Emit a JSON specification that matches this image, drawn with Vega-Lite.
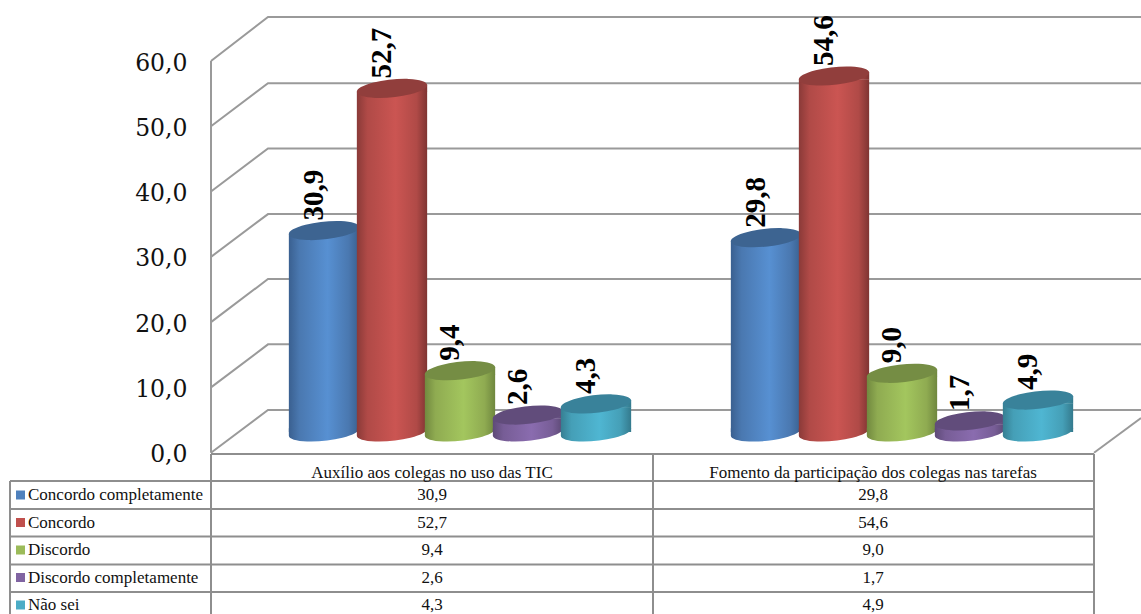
{
"$schema":"https://vega.github.io/schema/vega-lite/v6.json",
"width":1141,"height":614,"padding":0,"autosize":"none","background":"white",
"config":{"view":{"stroke":null},"locale":{"number":{"decimal":",","thousands":".","grouping":[3],"currency":["","€"]}},"text":{"font":"Liberation Serif"}},
"datasets":{
"bars":[
{"cat":"Auxílio aos colegas no uso das TIC","series":"Concordo completamente","value":30.9},
{"cat":"Auxílio aos colegas no uso das TIC","series":"Concordo","value":52.7},
{"cat":"Auxílio aos colegas no uso das TIC","series":"Discordo","value":9.4},
{"cat":"Auxílio aos colegas no uso das TIC","series":"Discordo completamente","value":2.6},
{"cat":"Auxílio aos colegas no uso das TIC","series":"Não sei","value":4.3},
{"cat":"Fomento da participação dos colegas nas tarefas","series":"Concordo completamente","value":29.8},
{"cat":"Fomento da participação dos colegas nas tarefas","series":"Concordo","value":54.6},
{"cat":"Fomento da participação dos colegas nas tarefas","series":"Discordo","value":9.0},
{"cat":"Fomento da participação dos colegas nas tarefas","series":"Discordo completamente","value":1.7},
{"cat":"Fomento da participação dos colegas nas tarefas","series":"Não sei","value":4.9}],
"wall":[
{"g":"w0","node":0,"v":0},{"g":"w0","node":1,"v":6.55},{"g":"w0","node":3,"v":6.55},
{"g":"w10","node":0,"v":10},{"g":"w10","node":1,"v":16.6},{"g":"w10","node":3,"v":16.6},
{"g":"w20","node":0,"v":20},{"g":"w20","node":1,"v":26.6},{"g":"w20","node":3,"v":26.6},
{"g":"w30","node":0,"v":30},{"g":"w30","node":1,"v":36.55},{"g":"w30","node":3,"v":36.55},
{"g":"w40","node":0,"v":40},{"g":"w40","node":1,"v":46.6},{"g":"w40","node":3,"v":46.6},
{"g":"w50","node":0,"v":50},{"g":"w50","node":1,"v":56.6},{"g":"w50","node":3,"v":56.6},
{"g":"w60","node":0,"v":60},{"g":"w60","node":1,"v":66.75},{"g":"w60","node":3,"v":66.75},
{"g":"floor","node":2,"v":0},{"g":"floor","node":3,"v":5.3}],
"wallV":[{"node":0,"v":60,"v2":0}],
"hlines":[
{"row":0,"from":1,"to":3},{"row":1,"from":0,"to":3},{"row":2,"from":0,"to":3},{"row":3,"from":0,"to":3},{"row":4,"from":0,"to":3},{"row":5,"from":0,"to":3}],
"vlines":[
{"col":0,"from":1,"to":6},{"col":1,"from":0,"to":6},{"col":2,"from":0,"to":6},{"col":3,"from":0,"to":6}],
"seriesRows":[
{"series":"Concordo completamente","part":"key"},{"series":"Concordo","part":"key"},{"series":"Discordo","part":"key"},{"series":"Discordo completamente","part":"key"},{"series":"Não sei","part":"key"},
{"series":"Concordo completamente","part":"label"},{"series":"Concordo","part":"label"},{"series":"Discordo","part":"label"},{"series":"Discordo completamente","part":"label"},{"series":"Não sei","part":"label"}],
"cats":[{"cat":"Auxílio aos colegas no uso das TIC"},{"cat":"Fomento da participação dos colegas nas tarefas"}]
},
"resolve":{"scale":{"x":"independent","y":"independent","color":"independent"}},
"layer":[
{"data":{"name":"wall"},
 "mark":{"type":"line","color":"#9A9A9A","strokeWidth":2,"interpolate":"linear"},
 "encoding":{
  "x":{"field":"node","type":"quantitative","axis":null,"scale":{"domain":[0,1,2,3],"range":[211,268,1094,1141]}},
  "y":{"field":"v","type":"quantitative","title":null,"scale":{"domain":[0,60],"range":[452.7,61],"clamp":false,"nice":false},
   "axis":{"orient":"left","values":[0,10,20,30,40,50,60],"format":".1f","offset":-187,"ticks":false,"domain":false,"grid":false,"labelFont":"DejaVu Serif","labelFontSize":23.5,"labelColor":"#111111","labelPadding":0,"labelAlign":"right","labelBaseline":"middle","labelOffset":2}},
  "detail":{"field":"g"}}},
{"data":{"name":"wallV"},
 "mark":{"type":"rule","color":"#9A9A9A","strokeWidth":2},
 "encoding":{
  "x":{"field":"node","type":"quantitative","axis":null,"scale":{"domain":[0,1,2,3],"range":[211,268,1094,1141]}},
  "y":{"field":"v","type":"quantitative","axis":null,"scale":{"domain":[0,60],"range":[452.7,61]}},
  "y2":{"field":"v2"}}},
{"data":{"name":"hlines"},
 "mark":{"type":"rule","color":"#8E8E8E","strokeWidth":2},
 "encoding":{
  "x":{"field":"from","type":"quantitative","axis":null,"scale":{"domain":[0,1,2,3],"range":[10,211,653,1094]}},
  "x2":{"field":"to"},
  "y":{"field":"row","type":"quantitative","axis":null,"scale":{"domain":[0,1,2,3,4,5,6],"range":[454,481,509,536.5,564.5,592,622]}}}},
{"data":{"name":"vlines"},
 "mark":{"type":"rule","color":"#8E8E8E","strokeWidth":2},
 "encoding":{
  "x":{"field":"col","type":"quantitative","axis":null,"scale":{"domain":[0,1,2,3],"range":[10,211,653,1094]}},
  "y":{"field":"from","type":"quantitative","axis":null,"scale":{"domain":[0,1,2,3,4,5,6],"range":[454,481,509,536.5,564.5,592,622]}},
  "y2":{"field":"to"}}},
{"data":{"name":"bars"},
 "encoding":{
  "x":{"field":"cat","type":"nominal","axis":null,"scale":{"type":"point","padding":0,"domain":["Auxílio aos colegas no uso das TIC","Fomento da participação dos colegas nas tarefas"],"range":[460,902]}},
  "xOffset":{"field":"series","type":"nominal","scale":{"type":"point","padding":0,"domain":["Concordo completamente","Concordo","Discordo","Discordo completamente","Não sei"],"range":[-136,136]}},
  "y":{"field":"value","type":"quantitative","axis":null,"stack":null,"scale":{"domain":[0,60],"range":[432,40.8]}}},
 "layer":[
 {"transform":[{"filter":"datum.series==='Concordo completamente'"}],"layer":[
  {"mark":{"type":"point","filled":true,"opacity":1,"size":5000,"shape":"M-0.9945,-0.1045L0.9945,-0.1045A1,0.25,-6,1,1,-0.9945,0.1045Z","fill":{"gradient":"linear","x1":0,"x2":1,"y1":0,"y2":0,"stops":[{"offset":0,"color":"#3A6090"},{"offset":0.15,"color":"#4A78B0"},{"offset":0.55,"color":"#5790D2"},{"offset":0.85,"color":"#4A78B0"},{"offset":1,"color":"#39608F"}]}},"encoding":{"y":{"datum":0,"type":"quantitative"}}},
  {"mark":{"type":"bar","width":70.3,"yOffset":3.4,"y2Offset":-3.4,"fill":{"gradient":"linear","x1":0,"x2":1,"y1":0,"y2":0,"stops":[{"offset":0,"color":"#3A6090"},{"offset":0.15,"color":"#4A78B0"},{"offset":0.55,"color":"#5790D2"},{"offset":0.85,"color":"#4A78B0"},{"offset":1,"color":"#39608F"}]}}},
  {"mark":{"type":"point","filled":true,"opacity":1,"size":5000,"shape":"M-0.9945,0.1045L0.9945,-0.1045L0.9945,0.1045Z","fill":{"gradient":"linear","x1":0,"x2":1,"y1":0,"y2":0,"stops":[{"offset":0,"color":"#3A6090"},{"offset":0.15,"color":"#4A78B0"},{"offset":0.55,"color":"#5790D2"},{"offset":0.85,"color":"#4A78B0"},{"offset":1,"color":"#39608F"}]}}},
  {"mark":{"type":"point","filled":true,"opacity":1,"size":5000,"shape":"M-0.9945,0.1045A1,0.25,-6,1,1,0.9945,-0.1045A1,0.25,-6,1,1,-0.9945,0.1045Z","fill":"#3D6491"}}]},
 {"transform":[{"filter":"datum.series==='Concordo'"}],"layer":[
  {"mark":{"type":"point","filled":true,"opacity":1,"size":5000,"shape":"M-0.9945,-0.1045L0.9945,-0.1045A1,0.25,-6,1,1,-0.9945,0.1045Z","fill":{"gradient":"linear","x1":0,"x2":1,"y1":0,"y2":0,"stops":[{"offset":0,"color":"#8A3A38"},{"offset":0.15,"color":"#B04A47"},{"offset":0.55,"color":"#CB5552"},{"offset":0.85,"color":"#B04A47"},{"offset":1,"color":"#7F3432"}]}},"encoding":{"y":{"datum":0,"type":"quantitative"}}},
  {"mark":{"type":"bar","width":70.3,"yOffset":3.4,"y2Offset":-3.4,"fill":{"gradient":"linear","x1":0,"x2":1,"y1":0,"y2":0,"stops":[{"offset":0,"color":"#8A3A38"},{"offset":0.15,"color":"#B04A47"},{"offset":0.55,"color":"#CB5552"},{"offset":0.85,"color":"#B04A47"},{"offset":1,"color":"#7F3432"}]}}},
  {"mark":{"type":"point","filled":true,"opacity":1,"size":5000,"shape":"M-0.9945,0.1045L0.9945,-0.1045L0.9945,0.1045Z","fill":{"gradient":"linear","x1":0,"x2":1,"y1":0,"y2":0,"stops":[{"offset":0,"color":"#8A3A38"},{"offset":0.15,"color":"#B04A47"},{"offset":0.55,"color":"#CB5552"},{"offset":0.85,"color":"#B04A47"},{"offset":1,"color":"#7F3432"}]}}},
  {"mark":{"type":"point","filled":true,"opacity":1,"size":5000,"shape":"M-0.9945,0.1045A1,0.25,-6,1,1,0.9945,-0.1045A1,0.25,-6,1,1,-0.9945,0.1045Z","fill":"#913E3C"}}]},
 {"transform":[{"filter":"datum.series==='Discordo'"}],"layer":[
  {"mark":{"type":"point","filled":true,"opacity":1,"size":5000,"shape":"M-0.9945,-0.1045L0.9945,-0.1045A1,0.25,-6,1,1,-0.9945,0.1045Z","fill":{"gradient":"linear","x1":0,"x2":1,"y1":0,"y2":0,"stops":[{"offset":0,"color":"#71893F"},{"offset":0.15,"color":"#8FAB51"},{"offset":0.55,"color":"#A3C65E"},{"offset":0.85,"color":"#8FAB51"},{"offset":1,"color":"#6F873E"}]}},"encoding":{"y":{"datum":0,"type":"quantitative"}}},
  {"mark":{"type":"bar","width":70.3,"yOffset":3.4,"y2Offset":-3.4,"fill":{"gradient":"linear","x1":0,"x2":1,"y1":0,"y2":0,"stops":[{"offset":0,"color":"#71893F"},{"offset":0.15,"color":"#8FAB51"},{"offset":0.55,"color":"#A3C65E"},{"offset":0.85,"color":"#8FAB51"},{"offset":1,"color":"#6F873E"}]}}},
  {"mark":{"type":"point","filled":true,"opacity":1,"size":5000,"shape":"M-0.9945,0.1045L0.9945,-0.1045L0.9945,0.1045Z","fill":{"gradient":"linear","x1":0,"x2":1,"y1":0,"y2":0,"stops":[{"offset":0,"color":"#71893F"},{"offset":0.15,"color":"#8FAB51"},{"offset":0.55,"color":"#A3C65E"},{"offset":0.85,"color":"#8FAB51"},{"offset":1,"color":"#6F873E"}]}}},
  {"mark":{"type":"point","filled":true,"opacity":1,"size":5000,"shape":"M-0.9945,0.1045A1,0.25,-6,1,1,0.9945,-0.1045A1,0.25,-6,1,1,-0.9945,0.1045Z","fill":"#758D44"}}]},
 {"transform":[{"filter":"datum.series==='Discordo completamente'"}],"layer":[
  {"mark":{"type":"point","filled":true,"opacity":1,"size":5000,"shape":"M-0.9945,-0.1045L0.9945,-0.1045A1,0.25,-6,1,1,-0.9945,0.1045Z","fill":{"gradient":"linear","x1":0,"x2":1,"y1":0,"y2":0,"stops":[{"offset":0,"color":"#5E4A78"},{"offset":0.15,"color":"#775D96"},{"offset":0.55,"color":"#8A6CAF"},{"offset":0.85,"color":"#775D96"},{"offset":1,"color":"#5B4873"}]}},"encoding":{"y":{"datum":0,"type":"quantitative"}}},
  {"mark":{"type":"bar","width":70.3,"yOffset":3.4,"y2Offset":-3.4,"fill":{"gradient":"linear","x1":0,"x2":1,"y1":0,"y2":0,"stops":[{"offset":0,"color":"#5E4A78"},{"offset":0.15,"color":"#775D96"},{"offset":0.55,"color":"#8A6CAF"},{"offset":0.85,"color":"#775D96"},{"offset":1,"color":"#5B4873"}]}}},
  {"mark":{"type":"point","filled":true,"opacity":1,"size":5000,"shape":"M-0.9945,0.1045L0.9945,-0.1045L0.9945,0.1045Z","fill":{"gradient":"linear","x1":0,"x2":1,"y1":0,"y2":0,"stops":[{"offset":0,"color":"#5E4A78"},{"offset":0.15,"color":"#775D96"},{"offset":0.55,"color":"#8A6CAF"},{"offset":0.85,"color":"#775D96"},{"offset":1,"color":"#5B4873"}]}}},
  {"mark":{"type":"point","filled":true,"opacity":1,"size":5000,"shape":"M-0.9945,0.1045A1,0.25,-6,1,1,0.9945,-0.1045A1,0.25,-6,1,1,-0.9945,0.1045Z","fill":"#614C7B"}}]},
 {"transform":[{"filter":"datum.series==='Não sei'"}],"layer":[
  {"mark":{"type":"point","filled":true,"opacity":1,"size":5000,"shape":"M-0.9945,-0.1045L0.9945,-0.1045A1,0.25,-6,1,1,-0.9945,0.1045Z","fill":{"gradient":"linear","x1":0,"x2":1,"y1":0,"y2":0,"stops":[{"offset":0,"color":"#367F92"},{"offset":0.15,"color":"#459FB7"},{"offset":0.55,"color":"#4FB6D2"},{"offset":0.85,"color":"#459FB7"},{"offset":1,"color":"#347A8D"}]}},"encoding":{"y":{"datum":0,"type":"quantitative"}}},
  {"mark":{"type":"bar","width":70.3,"yOffset":3.4,"y2Offset":-3.4,"fill":{"gradient":"linear","x1":0,"x2":1,"y1":0,"y2":0,"stops":[{"offset":0,"color":"#367F92"},{"offset":0.15,"color":"#459FB7"},{"offset":0.55,"color":"#4FB6D2"},{"offset":0.85,"color":"#459FB7"},{"offset":1,"color":"#347A8D"}]}}},
  {"mark":{"type":"point","filled":true,"opacity":1,"size":5000,"shape":"M-0.9945,0.1045L0.9945,-0.1045L0.9945,0.1045Z","fill":{"gradient":"linear","x1":0,"x2":1,"y1":0,"y2":0,"stops":[{"offset":0,"color":"#367F92"},{"offset":0.15,"color":"#459FB7"},{"offset":0.55,"color":"#4FB6D2"},{"offset":0.85,"color":"#459FB7"},{"offset":1,"color":"#347A8D"}]}}},
  {"mark":{"type":"point","filled":true,"opacity":1,"size":5000,"shape":"M-0.9945,0.1045A1,0.25,-6,1,1,0.9945,-0.1045A1,0.25,-6,1,1,-0.9945,0.1045Z","fill":"#39829A"}}]},
 {"mark":{"type":"text","angle":270,"align":"left","baseline":"alphabetic","dx":10,"dy":-1,"font":"Liberation Serif","fontWeight":"bold","fontSize":29,"color":"#000000"},
  "encoding":{"text":{"field":"value","type":"quantitative","format":".1f"}}}
 ]},
{"data":{"name":"bars"},
 "mark":{"type":"text","font":"Liberation Serif","fontSize":17,"color":"#111111","baseline":"middle","align":"center"},
 "encoding":{
  "x":{"field":"cat","type":"nominal","axis":null,"scale":{"type":"point","padding":0,"domain":["Auxílio aos colegas no uso das TIC","Fomento da participação dos colegas nas tarefas"],"range":[432,873]}},
  "y":{"field":"series","type":"nominal","axis":null,"scale":{"type":"point","padding":0,"domain":["Concordo completamente","Concordo","Discordo","Discordo completamente","Não sei"],"range":[495,605]}},
  "text":{"field":"value","type":"quantitative","format":".1f"}}},
{"data":{"name":"cats"},
 "mark":{"type":"text","font":"Liberation Serif","fontSize":17,"color":"#111111","baseline":"alphabetic","align":"center"},
 "encoding":{
  "x":{"field":"cat","type":"nominal","axis":null,"scale":{"type":"point","padding":0,"domain":["Auxílio aos colegas no uso das TIC","Fomento da participação dos colegas nas tarefas"],"range":[432,873]}},
  "y":{"datum":"header","type":"nominal","axis":null,"scale":{"type":"point","padding":0,"domain":["header","below"],"range":[478,500]}},
  "text":{"field":"cat"}}},
{"data":{"name":"seriesRows"},"transform":[{"filter":"datum.part==='key'"}],
 "mark":{"type":"point","shape":"square","filled":true,"opacity":1,"size":81},
 "encoding":{
  "x":{"field":"part","type":"nominal","axis":null,"scale":{"type":"point","padding":0,"domain":["key","label"],"range":[20.5,28]}},
  "y":{"field":"series","type":"nominal","axis":null,"scale":{"type":"point","padding":0,"domain":["Concordo completamente","Concordo","Discordo","Discordo completamente","Não sei"],"range":[495,605]}},
  "color":{"field":"series","type":"nominal","legend":null,"scale":{"domain":["Concordo completamente","Concordo","Discordo","Discordo completamente","Não sei"],"range":["#4F81BD","#C0504D","#9BBB59","#8064A2","#4BACC6"]}}}},
{"data":{"name":"seriesRows"},"transform":[{"filter":"datum.part==='label'"}],
 "mark":{"type":"text","font":"Liberation Serif","fontSize":17,"color":"#111111","baseline":"middle","align":"left"},
 "encoding":{
  "x":{"field":"part","type":"nominal","axis":null,"scale":{"type":"point","padding":0,"domain":["key","label"],"range":[20.5,28]}},
  "y":{"field":"series","type":"nominal","axis":null,"scale":{"type":"point","padding":0,"domain":["Concordo completamente","Concordo","Discordo","Discordo completamente","Não sei"],"range":[495,605]}},
  "text":{"field":"series"}}}
]
}
